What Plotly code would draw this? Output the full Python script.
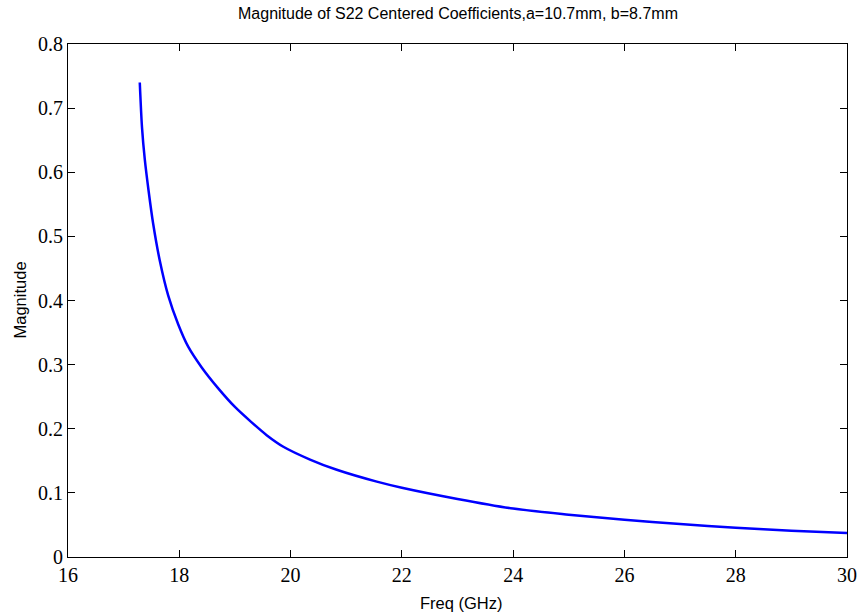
import plotly.graph_objects as go

freq_ghz = [17.29, 17.33, 17.38, 17.45, 17.53, 17.65, 17.80, 17.98, 18.16, 18.40,
            18.70, 19.00, 19.30, 19.57, 19.87, 20.35, 20.83, 21.55, 22.0, 23.0,
            24.0, 25.0, 26.0, 27.0, 28.0, 29.0, 30.0]
magnitude = [0.740, 0.670, 0.620, 0.570, 0.520, 0.462, 0.408, 0.363, 0.328, 0.296,
             0.263, 0.234, 0.210, 0.190, 0.172, 0.152, 0.136, 0.1175, 0.108, 0.0905,
             0.0755, 0.066, 0.058, 0.0515, 0.0455, 0.041, 0.0374]

x_ticks = [16, 18, 20, 22, 24, 26, 28, 30]
y_ticks = [0, 0.1, 0.2, 0.3, 0.4, 0.5, 0.6, 0.7, 0.8]
y_tick_text = ["0", "0.1", "0.2", "0.3", "0.4", "0.5", "0.6", "0.7", "0.8"]

sans = "Liberation Sans, Arial, sans-serif"
serif = "Liberation Serif, Times New Roman, serif"

fig = go.Figure()
fig.add_trace(go.Scatter(x=freq_ghz, y=magnitude, mode="lines",
                         line=dict(color="#0000ff", width=2.5, shape="spline", smoothing=0.8),
                         showlegend=False, hoverinfo="x+y"))

tick_font = dict(family=serif, size=20, color="black")
axis_common = dict(showgrid=False, zeroline=False, showline=True, linecolor="black",
                   linewidth=1, mirror="ticks", ticks="inside", ticklen=7,
                   tickcolor="black", tickwidth=1, tickfont=tick_font, automargin=False)

fig.update_layout(
    width=861, height=616,
    margin=dict(l=68, r=14, t=44, b=59),
    paper_bgcolor="white", plot_bgcolor="white",
    xaxis=dict(range=[16, 30], tickvals=x_ticks, ticktext=[str(v) for v in x_ticks],
               **axis_common),
    yaxis=dict(range=[0, 0.8], tickvals=y_ticks, ticktext=y_tick_text,
               **axis_common),
    annotations=[
        dict(text="Magnitude of S22 Centered Coefficients,a=10.7mm, b=8.7mm",
             xref="paper", yref="paper", x=0.5, y=1.0604, xanchor="center", yanchor="middle",
             showarrow=False, font=dict(family=sans, size=16, color="black")),
        dict(text="Freq (GHz)", xref="paper", yref="paper", x=0.5045, y=-0.0897,
             xanchor="center", yanchor="middle", showarrow=False,
             font=dict(family=sans, size=16.5, color="black")),
        dict(text="Magnitude", xref="paper", yref="paper", x=-0.0629, y=0.5,
             xanchor="center", yanchor="middle", textangle=-90, showarrow=False,
             font=dict(family=sans, size=16.5, color="black")),
    ],
)

fig.write_html("out.html")
